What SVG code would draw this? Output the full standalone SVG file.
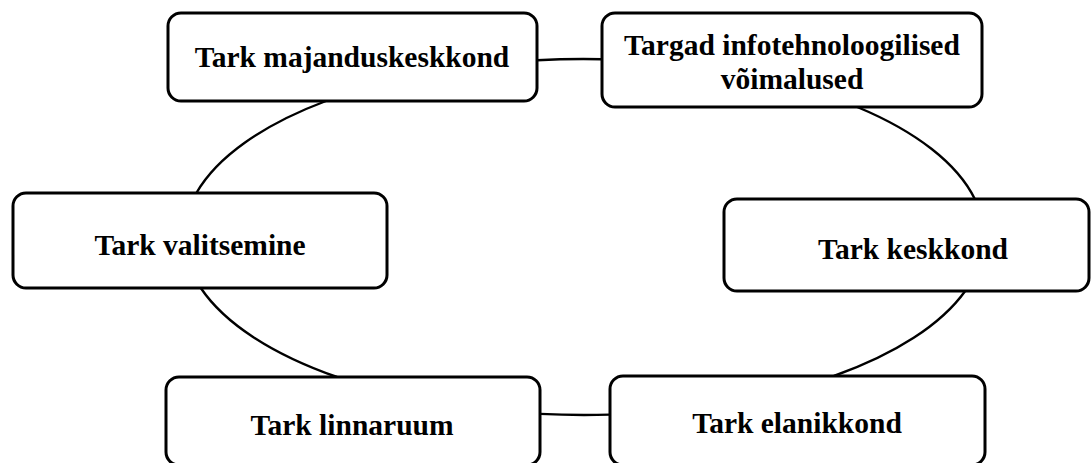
<svg xmlns="http://www.w3.org/2000/svg" width="1091" height="463" viewBox="0 0 1091 463">
  <style>
    .box { fill: #ffffff; stroke: #000000; stroke-width: 3; }
    .label { font-family: "Liberation Serif", "Times New Roman", serif; font-weight: bold; font-size: 29.5px; fill: #000000; text-anchor: middle; }
    .link { fill: none; stroke: #000000; stroke-width: 2.4; }
  </style>
  <rect width="1091" height="463" fill="#ffffff"/>

  <!-- elliptical ring joining the boxes, split into arcs between neighbours -->
  <g id="connectors">
    <path class="link" d="M537,60.2 A400,178 0 0 1 602,59.2"/>
    <path class="link" d="M857.2,107 A400,178 0 0 1 974.8,199"/>
    <path class="link" d="M965.2,291 A400,178 0 0 1 833.9,376"/>
    <path class="link" d="M610,414.6 A400,178 0 0 1 540,413.9"/>
    <path class="link" d="M337,377 A400,178 0 0 1 200.8,288"/>
    <path class="link" d="M196.4,193 A400,178 0 0 1 326,101"/>
  </g>

  <g id="node-majanduskeskkond">
    <rect class="box" x="168" y="13" width="369" height="88" rx="13"/>
    <text class="label" x="352" y="67">Tark majanduskeskkond</text>
  </g>

  <g id="node-infotehnoloogia">
    <rect class="box" x="602" y="13" width="380" height="94" rx="13"/>
    <text class="label" x="792" y="55">Targad infotehnoloogilised</text>
    <text class="label" x="792" y="89">võimalused</text>
  </g>

  <g id="node-valitsemine">
    <rect class="box" x="13" y="193" width="374" height="95" rx="13"/>
    <text class="label" x="200" y="255">Tark valitsemine</text>
  </g>

  <g id="node-keskkond">
    <rect class="box" x="724" y="199" width="365" height="92" rx="13"/>
    <text class="label" x="913" y="259">Tark keskkond</text>
  </g>

  <g id="node-linnaruum">
    <rect class="box" x="166" y="377" width="374" height="88" rx="13"/>
    <text class="label" x="352" y="435">Tark linnaruum</text>
  </g>

  <g id="node-elanikkond">
    <rect class="box" x="610" y="376" width="375" height="89" rx="13"/>
    <text class="label" x="797" y="433">Tark elanikkond</text>
  </g>
</svg>
